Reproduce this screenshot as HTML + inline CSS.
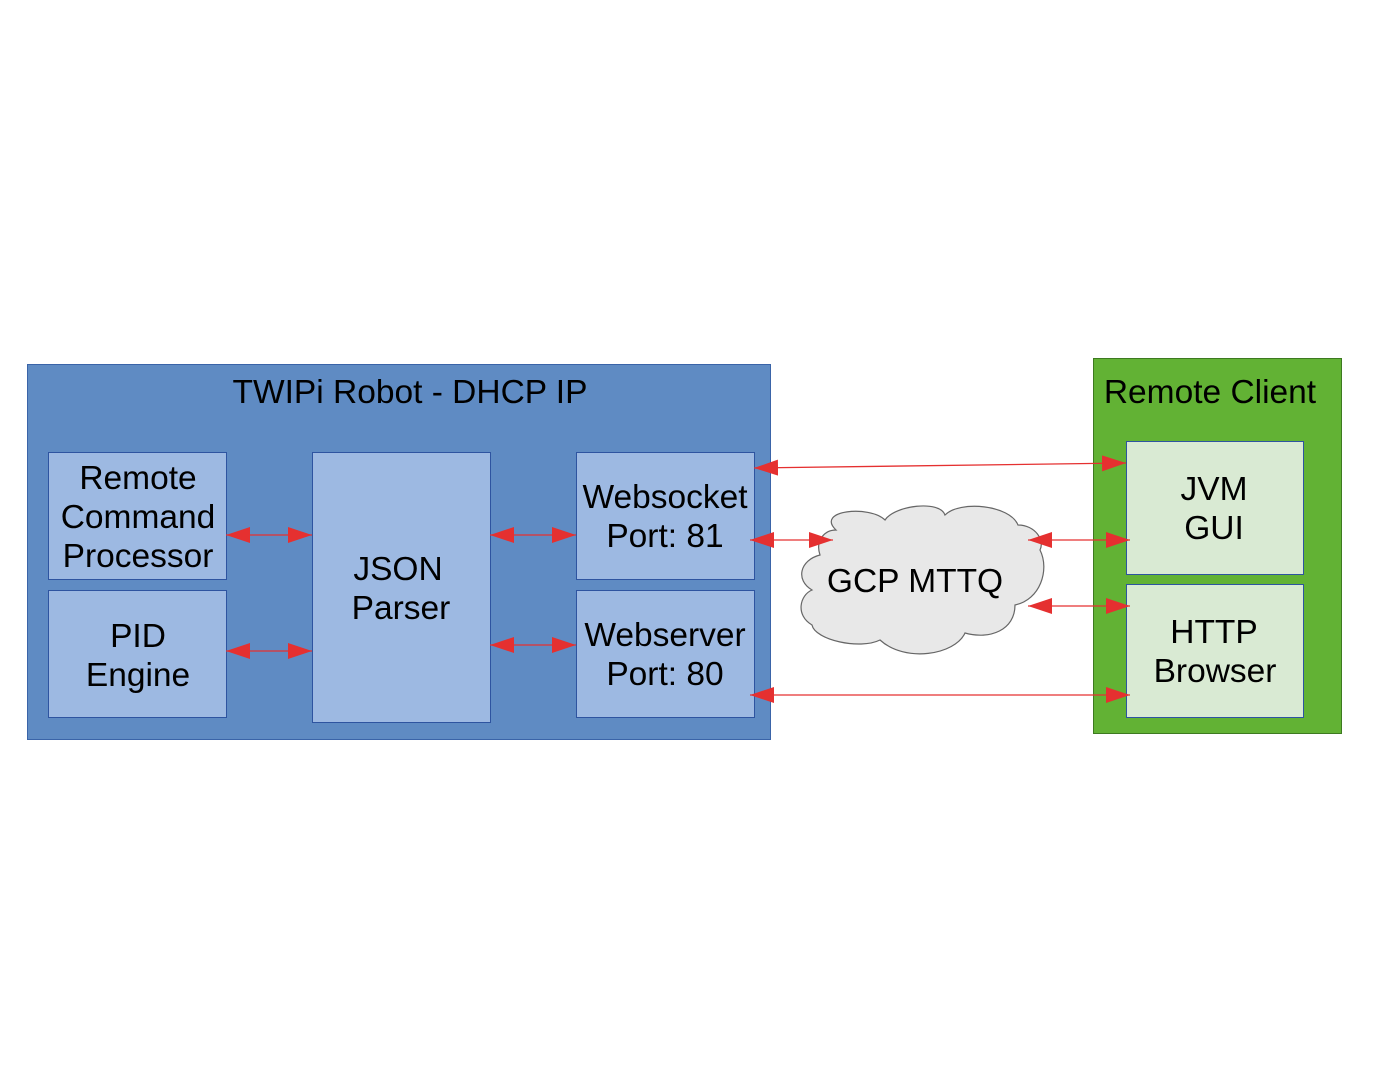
<!DOCTYPE html>
<html><head><meta charset="utf-8"><style>body{margin:0;background:#fff}svg{display:block}</style></head><body>
<svg width="1397" height="1080" viewBox="0 0 1397 1080" xmlns="http://www.w3.org/2000/svg" font-family="Liberation Sans, sans-serif">
<defs>
<marker id="a" markerWidth="24" markerHeight="16" refX="24" refY="8" orient="auto-start-reverse" markerUnits="userSpaceOnUse"><path d="M0,0 L24,8 L0,16 z" fill="#e53030"/></marker>
</defs>
<rect x="27.5" y="364.5" width="743" height="375" fill="#5f8bc3" stroke="#3a64a8"/>
<text x="410" y="403" font-size="33.5" text-anchor="middle">TWIPi Robot - DHCP IP</text>
<g fill="#9db9e2" stroke="#2e54a0">
<rect x="48.5" y="452.5" width="178" height="127"/>
<rect x="48.5" y="590.5" width="178" height="127"/>
<rect x="312.5" y="452.5" width="178" height="270"/>
<rect x="576.5" y="452.5" width="178" height="127"/>
<rect x="576.5" y="590.5" width="178" height="127"/>
</g>
<g font-size="33.5" text-anchor="middle">
<text x="138" y="489">Remote</text><text x="138" y="528">Command</text><text x="138" y="567">Processor</text>
<text x="138" y="647">PID</text><text x="138" y="686">Engine</text>
<text x="398" y="580">JSON</text><text x="401" y="619">Parser</text>
<text x="665" y="508">Websocket</text><text x="665" y="547">Port: 81</text>
<text x="665" y="646">Webserver</text><text x="665" y="685">Port: 80</text>
</g>
<rect x="1093.5" y="358.5" width="248" height="375" fill="#62b234" stroke="#3d7a20"/>
<text x="1210" y="403" font-size="33.5" text-anchor="middle">Remote Client</text>
<g fill="#d9ead3" stroke="#2e54a0">
<rect x="1126.5" y="441.5" width="177" height="133"/>
<rect x="1126.5" y="584.5" width="177" height="133"/>
</g>
<g font-size="33.5" text-anchor="middle">
<text x="1214" y="500">JVM</text><text x="1214" y="539">GUI</text>
<text x="1214" y="643">HTTP</text><text x="1215" y="682">Browser</text>
</g>
<path d="M836,530 C815,510 870,505 885,520 C895,505 940,500 945,515 C960,500 1010,505 1018,525 C1035,525 1045,540 1040,550 C1050,570 1040,600 1015,605 C1015,630 990,640 965,633 C955,655 905,663 880,640 C860,650 815,640 812,625 C795,615 800,595 812,590 C795,580 800,560 820,555 C815,540 825,530 836,530 Z" fill="#e8e8e8" stroke="#666" stroke-width="1.2"/>
<text x="915" y="592" font-size="33.5" text-anchor="middle">GCP MTTQ</text>
<g stroke="#e53030" stroke-width="1.3" marker-start="url(#a)" marker-end="url(#a)">
<line x1="226" y1="535" x2="312" y2="535"/>
<line x1="226" y1="651" x2="312" y2="651"/>
<line x1="490" y1="535" x2="576" y2="535"/>
<line x1="490" y1="645" x2="576" y2="645"/>
<line x1="754" y1="468" x2="1126" y2="463"/>
<line x1="750" y1="540" x2="833" y2="540"/>
<line x1="1028" y1="540" x2="1130" y2="540"/>
<line x1="1028" y1="606" x2="1130" y2="606"/>
<line x1="750" y1="695" x2="1130" y2="695"/>
</g>
</svg>
</body></html>
